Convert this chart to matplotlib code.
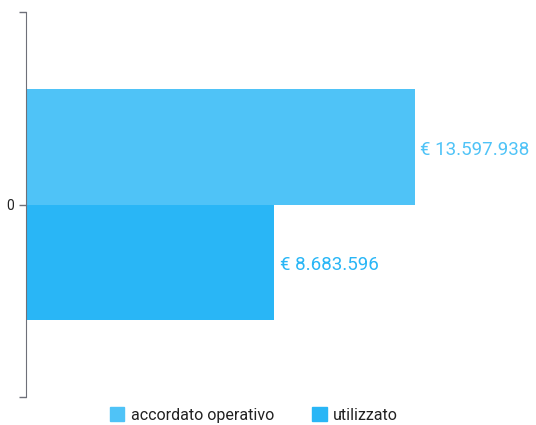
import matplotlib
matplotlib.use('Agg')
from matplotlib import pyplot as plt
from matplotlib.patches import Patch

plt.rcParams['font.family'] = ['Roboto', 'DejaVu Sans']

categories = ['0']
series_names = ['accordato operativo', 'utilizzato']
values = [13597938, 8683596]
labels = ['€ 13.597.938', '€ 8.683.596']
colors = ['#4FC3F7', '#29B6F6']

fig = plt.figure(figsize=(5.36, 4.25), dpi=100)
ax = fig.add_axes([26/536, 28/425, 484/536, 385/425])

h = 0.3
offsets = [h/2, -h/2]
for i in range(len(values)):
    ax.barh(offsets[i], values[i], height=h, color=colors[i], edgecolor='none')
    ax.text(values[i] + 0.011 * 16.92e6, offsets[i] - 0.008, labels[i], va='center', ha='left',
            color=colors[i], fontsize=13.5)

ax.set_ylim(-0.5, 0.5)
ax.set_xlim(0, 13597938 * 484 / 389)
ax.set_yticks([-0.5, 0, 0.5])
ax.set_yticklabels(['', categories[0], ''])
ax.tick_params(axis='y', length=5, color='#6E7079', labelsize=10, labelcolor='#222222', width=1)
ax.set_xticks([])
for s in ['top', 'right', 'bottom']:
    ax.spines[s].set_visible(False)
ax.spines['left'].set_color('#6E7079')

handles = [Patch(color=colors[i]) for i in range(2)]
fig.legend(handles, series_names, loc='center', bbox_to_anchor=(0.474, 10/425), ncol=2,
           frameon=False, fontsize=11.5, handlelength=0.9, handleheight=0.9, columnspacing=2.4,
           handletextpad=0.4, labelcolor='#222222')

plt.savefig('out.png', dpi=100)
